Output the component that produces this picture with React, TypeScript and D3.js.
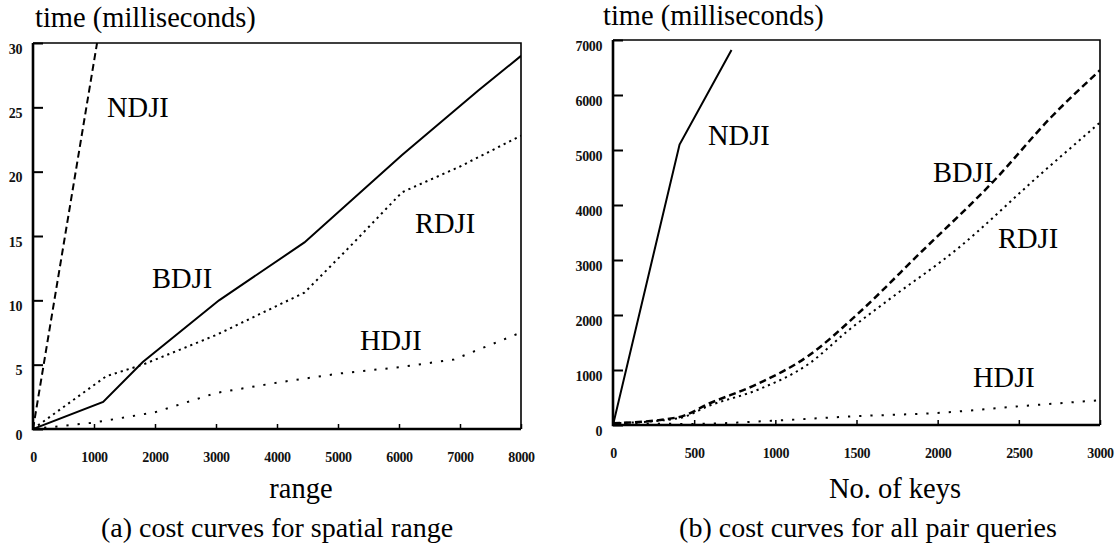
import React, { useEffect, useRef } from 'react';
import * as d3 from 'd3';

type Pt = [number, number];

// ---- (a) cost curves for spatial range ----
const rangeXTicks = [0, 1000, 2000, 3000, 4000, 5000, 6000, 7000, 8000];
const rangeYTicks = [0, 5, 10, 15, 20, 25, 30];
const rangeNDJI: Pt[] = [[0, 0], [1050, 30]];
const rangeBDJI: Pt[] = [[0, 0], [1150, 2.1], [1800, 5.2], [3050, 10], [4450, 14.5], [6050, 21.3], [7300, 26.3], [8000, 29]];
const rangeRDJI: Pt[] = [[0, 0], [1200, 4.1], [1800, 5], [3000, 7.3], [4450, 10.6], [5200, 14.2], [6050, 18.4], [7000, 20.4], [8000, 22.8]];
const rangeHDJI: Pt[] = [[0, 0], [1000, 0.5], [2000, 1.3], [3000, 2.8], [4000, 3.6], [5000, 4.3], [6000, 4.8], [6900, 5.4], [8000, 7.5]];

// ---- (b) cost curves for all pair queries ----
const keysXTicks = [0, 500, 1000, 1500, 2000, 2500, 3000];
const keysYTicks = [0, 1000, 2000, 3000, 4000, 5000, 6000, 7000];
const keysNDJI: Pt[] = [[0, 0], [410, 5100], [730, 6820]];
const keysBDJI: Pt[] = [[0, 30], [400, 140], [600, 400], [900, 760], [1200, 1250], [1500, 2000], [1900, 3150], [2350, 4450], [2700, 5600], [3000, 6450]];
const keysRDJI: Pt[] = [[0, 30], [400, 120], [600, 360], [900, 650], [1200, 1100], [1450, 1720], [1700, 2280], [2120, 3200], [2630, 4550], [3000, 5500]];
const keysHDJI: Pt[] = [[0, 30], [500, 20], [1000, 80], [1500, 160], [2000, 220], [2500, 340], [3000, 450]];

const FONT = '"Liberation Serif", "Times New Roman", serif';

const SOLID = { dash: null, w: 2 };
const DASHED = { dash: '7,4', w: 2 };
const DOTTED = { dash: '2.2,4', w: 2 };
const SPARSE = { dash: '2.2,9', w: 2 };

const panels = [
  {
    id: 'a',
    xr: [33, 521], yr: [429, 43], xd: [0, 8000], yd: [0, 30],
    xTicks: rangeXTicks, yTicks: rangeYTicks, smooth: false,
    series: [
      { name: 'NDJI', data: rangeNDJI, style: DASHED, lx: 107, ly: 117 },
      { name: 'BDJI', data: rangeBDJI, style: SOLID, lx: 152, ly: 288 },
      { name: 'RDJI', data: rangeRDJI, style: DOTTED, lx: 415, ly: 233 },
      { name: 'HDJI', data: rangeHDJI, style: SPARSE, lx: 360, ly: 350 },
    ],
    title: { x: 35, y: 27 },
    xLabel: { text: 'range', x: 301, y: 498 },
    caption: { text: '(a) cost curves for spatial range', x: 277, y: 537 },
  },
  {
    id: 'b',
    xr: [613, 1100], yr: [425, 40], xd: [0, 3000], yd: [0, 7000],
    xTicks: keysXTicks, yTicks: keysYTicks, smooth: true,
    series: [
      { name: 'NDJI', data: keysNDJI, style: SOLID, lx: 708, ly: 145 },
      { name: 'BDJI', data: keysBDJI, style: { dash: '7,4', w: 2.5 }, lx: 933, ly: 182 },
      { name: 'RDJI', data: keysRDJI, style: DOTTED, lx: 998, ly: 248 },
      { name: 'HDJI', data: keysHDJI, style: SPARSE, lx: 973, ly: 387 },
    ],
    title: { x: 603, y: 25 },
    xLabel: { text: 'No. of keys', x: 895, y: 498 },
    caption: { text: '(b) cost curves for all pair queries', x: 868, y: 537 },
  },
];

export default function App() {
  const ref = useRef<SVGSVGElement>(null);

  useEffect(() => {
    const svg = d3.select(ref.current);
    svg.selectAll('*').remove();
    const fmt = d3.format('d');

    panels.forEach((p) => {
      const x = d3.scaleLinear().domain(p.xd).range(p.xr);
      const y = d3.scaleLinear().domain(p.yd).range(p.yr);
      const g = svg.append('g');

      // clip so lines stay inside the frame
      svg.append('defs').append('clipPath').attr('id', 'clip-' + p.id)
        .append('rect')
        .attr('x', p.xr[0]).attr('y', p.yr[1])
        .attr('width', p.xr[1] - p.xr[0]).attr('height', p.yr[0] - p.yr[1]);

      // y axis, ticks pointing in
      const ya = g.append('g')
        .attr('transform', `translate(${p.xr[0]},0)`)
        .call(d3.axisLeft(y).tickValues(p.yTicks).tickFormat(fmt).tickSizeInner(-10).tickSizeOuter(0).tickPadding(11));
      ya.select('.domain').remove();
      ya.selectAll('line').attr('stroke', '#000').attr('stroke-width', 2);
      ya.selectAll('text').attr('dy', 10).attr('font-size', 14).attr('font-weight', 'bold')
        .attr('font-family', FONT).attr('fill', '#111').attr('letter-spacing', -0.4);

      // x axis, small ticks pointing up
      const xa = g.append('g')
        .attr('transform', `translate(0,${p.yr[0]})`)
        .call(d3.axisBottom(x).tickValues(p.xTicks).tickFormat(fmt).tickSizeInner(-5).tickSizeOuter(0).tickPadding(23));
      xa.select('.domain').remove();
      xa.selectAll('line').attr('stroke', '#000').attr('stroke-width', 1.5);
      xa.selectAll('text').attr('font-size', 14).attr('font-weight', 'bold')
        .attr('font-family', FONT).attr('fill', '#111').attr('letter-spacing', -0.4);

      // frame
      g.append('path')
        .attr('d', `M${p.xr[0]},${p.yr[1]}H${p.xr[1]}V${p.yr[0]}`)
        .attr('fill', 'none').attr('stroke', '#000').attr('stroke-width', 1.6);
      g.append('path')
        .attr('d', `M${p.xr[0]},${p.yr[1]}V${p.yr[0]}H${p.xr[1]}`)
        .attr('fill', 'none').attr('stroke', '#000').attr('stroke-width', 2.6);

      p.series.forEach((s) => {
        const line = d3.line<Pt>().x((d) => x(d[0])).y((d) => y(d[1]))
          .curve(p.smooth && s.name !== 'NDJI' ? d3.curveMonotoneX : d3.curveLinear);
        g.append('path')
          .datum(s.data)
          .attr('clip-path', `url(#clip-${p.id})`)
          .attr('fill', 'none')
          .attr('stroke', '#000')
          .attr('stroke-width', s.style.w)
          .attr('stroke-dasharray', s.style.dash)
          .attr('d', line);
        g.append('text')
          .attr('x', s.lx).attr('y', s.ly)
          .attr('font-family', FONT).attr('font-size', 28.5)
          .text(s.name);
      });

      g.append('text')
        .attr('x', p.title.x).attr('y', p.title.y)
        .attr('font-family', FONT).attr('font-size', 28.5)
        .text('time (milliseconds)');
      g.append('text')
        .attr('x', p.xLabel.x).attr('y', p.xLabel.y).attr('text-anchor', 'middle')
        .attr('font-family', FONT).attr('font-size', 28.5)
        .text(p.xLabel.text);
      g.append('text')
        .attr('x', p.caption.x).attr('y', p.caption.y).attr('text-anchor', 'middle')
        .attr('font-family', FONT).attr('font-size', 28)
        .text(p.caption.text);
    });
  }, []);

  return (
    <svg
      ref={ref}
      width={1120}
      height={555}
      style={{ position: 'absolute', left: 0, top: 0, background: '#fff' }}
    />
  );
}
